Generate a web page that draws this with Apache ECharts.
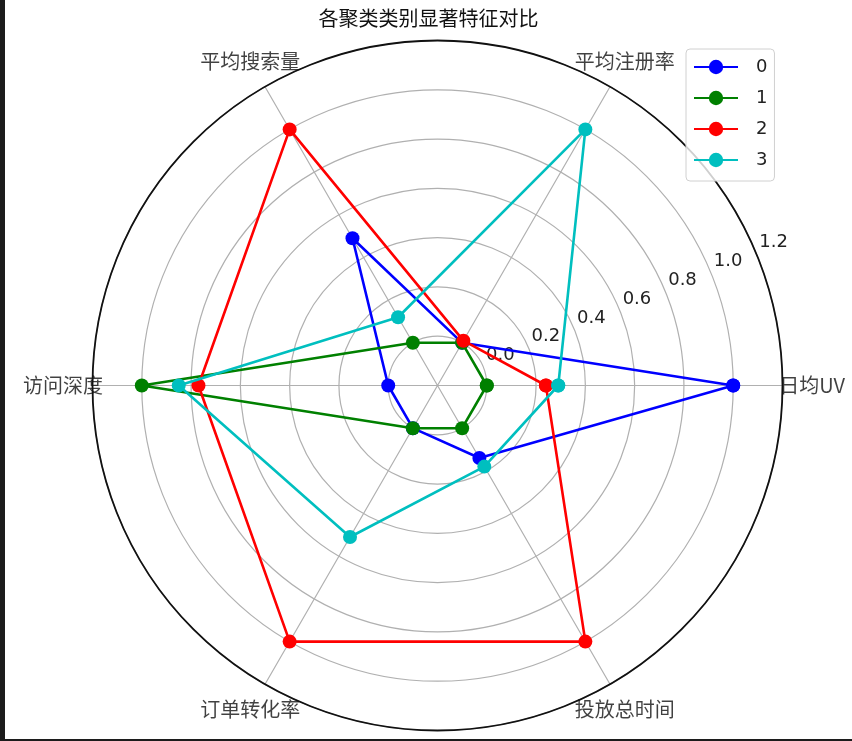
<!DOCTYPE html>
<html>
<head>
<meta charset="utf-8">
<script src="https://cdn.jsdelivr.net/npm/echarts@6/dist/echarts.min.js"></script>
<style>
    html, body { margin: 0; padding: 0; background: #1c1c1c; }
    #radar-chart { position: absolute; left: 5px; top: 0; width: 847px; height: 739px; background: #fff; }
</style>
</head>
<body>
<div id="radar-chart"></div>
<script>
// features around the circle, counter-clockwise from the right
const featureNames = ['日均UV', '平均注册率', '平均搜索量', '访问深度', '订单转化率', '投放总时间'];
const featureAngles = [0, 60, 120, 180, 240, 300];

// cluster profiles (normalised), one array per cluster
const cluster0 = [1.0, 0.0, 0.49, 0.0, 0.0, 0.14];
const cluster1 = [0.0, 0.0, 0.0, 1.0, 0.0, 0.0];
const cluster2 = [0.24, 0.01, 1.0, 0.77, 1.0, 1.0];
const cluster3 = [0.29, 1.0, 0.12, 0.85, 0.51, 0.18];

const clusterNames = ['0', '1', '2', '3'];
const clusterColors = ['#0000ff', '#008000', '#ff0000', '#00bfbf'];

const radiusMin = -0.2;
const radiusMax = 1.2;
const radiusStep = 0.2;

const center = [432.5, 385.5];
const outerRadius = 345;

// closed polygon: [radius, angle] pairs, first point repeated at 360
function toPolar(values) {
    const pts = values.map((v, i) => [v, featureAngles[i]]);
    pts.push([values[0], 360]);
    return pts;
}

function renderChart() {
    const chart = echarts.init(document.getElementById('radar-chart'));

    const clusterSeries = [cluster0, cluster1, cluster2, cluster3].map((values, i) => ({
        name: clusterNames[i],
        type: 'line',
        coordinateSystem: 'polar',
        polarIndex: 0,
        symbol: 'circle',
        symbolSize: 14,
        color: clusterColors[i],
        lineStyle: { width: 2.6, color: clusterColors[i] },
        itemStyle: { color: clusterColors[i] },
        data: toPolar(values),
        z: 3 + i
    }));

    // feature names sit just outside the circle, centred on the spoke
    const nameSeries = {
        type: 'scatter',
        coordinateSystem: 'polar',
        polarIndex: 0,
        silent: true,
        clip: false,
        symbolSize: 1,
        itemStyle: { color: 'rgba(0,0,0,0)' },
        label: {
            show: true,
            position: 'inside',
            formatter: '{b}',
            color: '#111',
            fontSize: 20,
            fontFamily: 'Noto Sans CJK SC'
        },
        data: featureNames.map((n, i) => ({ name: n, value: [1.32, featureAngles[i]] }))
    };

    const option = {
        animation: false,
        title: {
            text: '各聚类类别显著特征对比',
            left: 'center',
            top: 3,
            textStyle: { fontSize: 20, fontWeight: 'normal', color: '#111', fontFamily: 'Noto Sans CJK SC' }
        },
        legend: {
            data: clusterNames,
            orient: 'vertical',
            left: 681,
            top: 49,
            padding: [9, 7, 12, 7],
            itemWidth: 44,
            itemHeight: 18,
            itemGap: 13,
            backgroundColor: 'rgba(255,255,255,0.8)',
            borderColor: '#d0d0d0',
            borderWidth: 1,
            borderRadius: 4,
            textStyle: {
                fontSize: 18,
                lineHeight: 18,
                color: '#222',
                fontFamily: 'DejaVu Sans',
                padding: [0, 0, 0, 13]
            }
        },
        polar: [
            { center: center, radius: outerRadius },
            // radial tick labels only, along the 22.5 degree ray
            { center: [464.9, 376.3], radius: outerRadius }
        ],
        angleAxis: [
            {
                polarIndex: 0,
                type: 'value',
                min: 0,
                max: 360,
                interval: 60,
                startAngle: 0,
                clockwise: false,
                axisLine: { show: true, lineStyle: { color: '#111', width: 1.8 } },
                axisTick: { show: false },
                axisLabel: { show: false },
                splitLine: { show: true, lineStyle: { color: '#b0b0b0', width: 1.2 } }
            },
            {
                polarIndex: 1,
                type: 'value',
                min: 0,
                max: 360,
                startAngle: 22.5,
                clockwise: false,
                show: false
            }
        ],
        radiusAxis: [
            {
                polarIndex: 0,
                type: 'value',
                min: radiusMin,
                max: radiusMax,
                interval: radiusStep,
                axisLine: { show: false },
                axisTick: { show: false },
                axisLabel: { show: false },
                splitLine: { show: true, lineStyle: { color: '#b0b0b0', width: 1.2 } }
            },
            {
                polarIndex: 1,
                type: 'value',
                min: radiusMin,
                max: radiusMax,
                interval: radiusStep,
                axisLine: { show: false },
                axisTick: { show: false },
                splitLine: { show: false },
                axisLabel: {
                    show: true,
                    margin: 2,
                    rotate: 0,
                    color: '#222',
                    fontSize: 18,
                    fontFamily: 'DejaVu Sans',
                    formatter: v => (v < -0.1 ? '' : v.toFixed(1))
                }
            }
        ],
        series: clusterSeries.concat([nameSeries])
    };

    chart.setOption(option);
}

document.addEventListener('DOMContentLoaded', renderChart);
</script>
</body>
</html>
